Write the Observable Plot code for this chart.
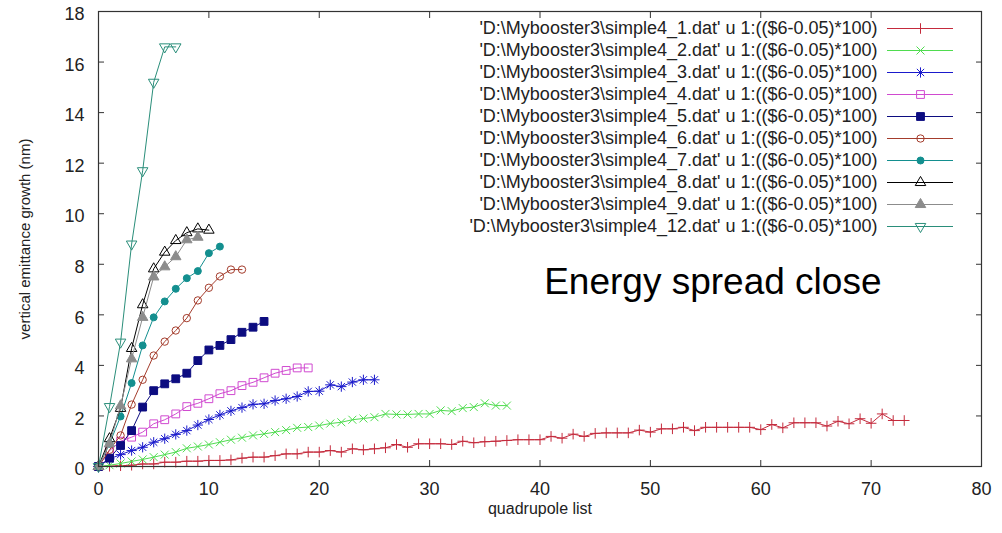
<!DOCTYPE html>
<html>
<head>
<meta charset="utf-8">
<script src="https://cdn.jsdelivr.net/npm/d3@7"></script>
<script src="https://cdn.jsdelivr.net/npm/@observablehq/plot@0.6"></script>
<style>
  html, body { margin: 0; padding: 0; background: #fff; }
  #chart { position: relative; width: 1002px; height: 533px; }
  #chart svg { position: absolute; left: 0; top: 0; }
</style>
</head>
<body>
<div id="chart"></div>
<script>
// Run files, one per beam setting
const files = ["simple4_1", "simple4_2", "simple4_3", "simple4_4", "simple4_5",
               "simple4_6", "simple4_7", "simple4_8", "simple4_9", "simple4_12"];

// Vertical emittance growth (nm) after each quadrupole (index = position in list)
const growth1 = [0, 0.01, 0.03, 0.05, 0.1, 0.1, 0.17, 0.17, 0.21, 0.21,
  0.24, 0.24, 0.26, 0.33, 0.37, 0.37, 0.43, 0.5, 0.5, 0.57,
  0.57, 0.63, 0.57, 0.7, 0.66, 0.7, 0.74, 0.87, 0.76, 0.9,
  0.9, 0.9, 0.87, 1.0, 0.94, 0.98, 1.0, 1.03, 1.06, 1.06,
  1.06, 1.19, 1.12, 1.28, 1.19, 1.31, 1.33, 1.33, 1.33, 1.44,
  1.36, 1.49, 1.49, 1.55, 1.42, 1.55, 1.55, 1.55, 1.55, 1.55,
  1.46, 1.66, 1.53, 1.73, 1.73, 1.73, 1.6, 1.79, 1.69, 1.89,
  1.71, 2.08, 1.82, 1.82];
const growth2 = [0, 0.05, 0.12, 0.2, 0.28, 0.37, 0.47, 0.57, 0.72, 0.79,
  0.87, 0.96, 1.06, 1.14, 1.23, 1.29, 1.36, 1.44, 1.53, 1.56,
  1.62, 1.7, 1.75, 1.85, 1.9, 1.95, 2.08, 2.06, 2.06, 2.08,
  2.08, 2.22, 2.19, 2.31, 2.35, 2.5, 2.41, 2.41];
const growth3 = [0, 0.3, 0.47, 0.63, 0.76, 0.96, 1.1, 1.27, 1.42, 1.64,
  1.86, 2.04, 2.2, 2.33, 2.46, 2.48, 2.61, 2.68, 2.77, 2.97,
  2.98, 3.23, 3.16, 3.34, 3.43, 3.43];
const growth4 = [0, 0.63, 1.0, 1.16, 1.36, 1.69, 1.85, 2.08, 2.37, 2.5,
  2.68, 2.88, 3.0, 3.2, 3.33, 3.51, 3.69, 3.8, 3.9, 3.9];
const growth5 = [0, 0.33, 0.83, 1.42, 2.35, 3.0, 3.27, 3.47, 3.69, 4.19,
  4.61, 4.79, 5.02, 5.31, 5.51, 5.74];
const growth6 = [0, 0.66, 1.23, 2.45, 3.43, 4.39, 4.94, 5.38, 5.87, 6.57,
  7.07, 7.52, 7.79, 7.79];
const growth7 = [0, 0.9, 1.98, 3.3, 4.79, 5.9, 6.53, 7.03, 7.45, 7.73, 8.44, 8.7];
const growth8 = [0, 1.1, 2.3, 4.67, 6.4, 7.82, 8.48, 8.94, 9.25, 9.4, 9.35];
const growth9 = [0, 0.9, 2.4, 4.26, 5.9, 7.5, 7.9, 8.3, 8.97, 9.07];
const growth12 = [0, 2.37, 4.92, 8.8, 11.7, 15.2, 16.6, 16.6];

const xTicks = [0, 10, 20, 30, 40, 50, 60, 70, 80];
const yTicks = [0, 2, 4, 6, 8, 10, 12, 14, 16, 18];
const xTitle = "quadrupole list";
const yTitle = "vertical emittance growth (nm)";
const note = "Energy spread close";
const legendLabels = files.map(f => `'D:\\Mybooster3\\${f}.dat' u 1:(($6-0.05)*100)`);

// gnuplot-style open triangle pointing down
const triangleDown = {
  draw(context, size) {
    const y = -Math.sqrt(size / (Math.sqrt(3) * 3));
    context.moveTo(0, -y * 2);
    context.lineTo(-Math.sqrt(3) * y, y);
    context.lineTo(Math.sqrt(3) * y, y);
    context.closePath();
  }
};

// Line colour and point glyph(s) for each file
const styles = [
  {color: "#c42a3c", points: [{symbol: "plus", r: 3.5}]},
  {color: "#4fdc4f", points: [{symbol: "times", r: 3.7}]},
  {color: "#1a1acc", points: [{symbol: "plus", r: 3.4}, {symbol: "times", r: 3.4}]},
  {color: "#d04ad0", points: [{symbol: "square", r: 4.4, fill: "none"}]},
  {color: "#0c0c80", points: [{symbol: "square", r: 4.4, fill: "#0c0c80"}]},
  {color: "#a43c2c", points: [{symbol: "circle", r: 3.7, fill: "none"}]},
  {color: "#138f8f", points: [{symbol: "circle", r: 3.5, fill: "#138f8f"}]},
  {color: "#000000", points: [{symbol: "triangle", r: 3.9, fill: "none"}]},
  {color: "#8c8c8c", points: [{symbol: "triangle", r: 3.9, fill: "#8c8c8c"}]},
  {color: "#2a8e7a", points: [{symbol: triangleDown, r: 3.9, fill: "none"}]}
];

const series = [growth1, growth2, growth3, growth4, growth5, growth6, growth7, growth8, growth9, growth12];
const rows = series.flatMap((vals, k) => vals.map((g, q) => ({file: files[k], q, g})));

const dataMarks = [];
styles.forEach((s, k) => {
  const data = rows.filter(d => d.file === files[k]);
  dataMarks.push(Plot.line(data, {x: "q", y: "g", stroke: s.color, strokeWidth: 1}));
  s.points.forEach(p => dataMarks.push(Plot.dot(data, {
    x: "q", y: "g", symbol: p.symbol, r: p.r,
    stroke: s.color, fill: p.fill ?? "none", strokeWidth: 1
  })));
});

const font = "'Liberation Sans', Arial, Helvetica, sans-serif";

const chart = Plot.plot({
  width: 1002,
  height: 533,
  marginLeft: 98,
  marginRight: 21,
  marginTop: 11,
  marginBottom: 67,
  style: {fontFamily: font, background: "#fff", color: "#222", overflow: "visible"},
  x: {domain: [0, 80]},
  y: {domain: [0, 18]},
  marks: [
    // tick labels
    Plot.axisY(yTicks, {anchor: "left", tickSize: 0, tickPadding: 14, dy: 3, fontSize: 18, label: null, fill: "#222"}),
    Plot.axisX(xTicks, {anchor: "bottom", tickSize: 0, tickPadding: 16, fontSize: 18, label: null, fill: "#222"}),
    // inward ticks on all four sides
    Plot.axisX(xTicks, {anchor: "bottom", tickSize: 6, dy: -6, fill: "none", label: null, stroke: "#333"}),
    Plot.axisX(xTicks, {anchor: "top", tickSize: 6, dy: 6, fill: "none", label: null, stroke: "#333"}),
    Plot.axisY(yTicks, {anchor: "left", tickSize: 6, dx: 6, fill: "none", label: null, stroke: "#333"}),
    Plot.axisY(yTicks, {anchor: "right", tickSize: 6, dx: -6, fill: "none", label: null, stroke: "#333"}),
    // axis titles
    Plot.text([xTitle], {frameAnchor: "bottom", lineAnchor: "middle", textAnchor: "middle", dy: 42, fontSize: 16, fill: "#222"}),
    Plot.text([yTitle], {frameAnchor: "left", lineAnchor: "middle", textAnchor: "middle", dx: -73, rotate: -90, fontSize: 15, fill: "#222"}),
    ...dataMarks,
    Plot.text([note], {frameAnchor: "top-right", textAnchor: "end", lineAnchor: "middle", dx: -100, dy: 271, fontSize: 37, fill: "#000"}),
    Plot.frame({stroke: "#333", strokeWidth: 1.2})
  ]
});

// Key: sample line, point glyph and file label per row
const keyMarks = [
  Plot.text(files, {y: d => d, text: (d, i) => legendLabels[i], frameAnchor: "left", textAnchor: "end", lineAnchor: "middle", dx: -10, fontSize: 18, fill: "#222"})
];
styles.forEach((s, k) => {
  keyMarks.push(Plot.tickY([files[k]], {y: d => d, stroke: s.color, strokeWidth: 1}));
  s.points.forEach(p => keyMarks.push(Plot.dot([files[k]], {
    y: d => d, symbol: p.symbol, r: p.r, stroke: s.color, fill: p.fill ?? "none", strokeWidth: 1
  })));
});

const key = Plot.plot({
  width: 1002,
  height: 533,
  marginLeft: 887,
  marginRight: 49,
  marginTop: 25,
  marginBottom: 304,
  style: {fontFamily: font, background: "transparent", overflow: "visible"},
  x: {axis: null},
  y: {type: "point", domain: files, padding: 0, axis: null},
  marks: keyMarks
});
key.style.pointerEvents = "none";

document.getElementById("chart").append(chart, key);
</script>
</body>
</html>
